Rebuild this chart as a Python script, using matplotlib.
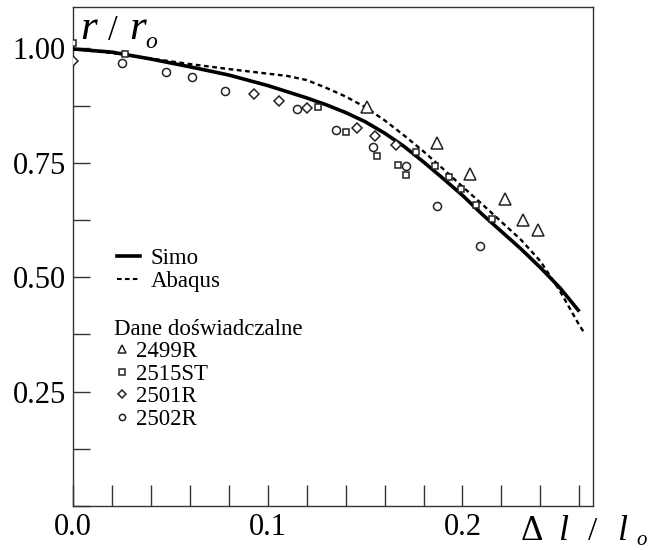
import matplotlib
matplotlib.use("Agg")
import matplotlib.pyplot as plt
from matplotlib.lines import Line2D
from matplotlib.ticker import MultipleLocator, FixedLocator

plt.rcParams['font.family'] = ['Liberation Serif', 'DejaVu Serif']

# ---- data ----
simo_x = [0.0, 0.02, 0.04, 0.06, 0.08, 0.10, 0.12, 0.13, 0.14, 0.15, 0.16,
          0.17, 0.18, 0.19, 0.20, 0.21, 0.22, 0.23, 0.24, 0.25, 0.26]
simo_y = [0.999, 0.992, 0.977, 0.960, 0.942, 0.919, 0.892, 0.877, 0.860, 0.840, 0.815,
          0.786, 0.752, 0.716, 0.679, 0.638, 0.600, 0.562, 0.521, 0.477, 0.425]

abaqus_x = [0.0, 0.02, 0.04, 0.06, 0.08, 0.10, 0.11, 0.12, 0.13, 0.14, 0.15,
            0.16, 0.17, 0.18, 0.19, 0.20, 0.21, 0.22, 0.23, 0.24, 0.25, 0.26, 0.262]
abaqus_y = [0.999, 0.990, 0.978, 0.966, 0.955, 0.945, 0.940, 0.931, 0.914, 0.895, 0.872,
            0.843, 0.810, 0.775, 0.737, 0.698, 0.660, 0.621, 0.582, 0.535, 0.470, 0.395, 0.382]

t2499_x = [0.151, 0.187, 0.204, 0.222, 0.231, 0.239]
t2499_y = [0.873, 0.793, 0.726, 0.670, 0.625, 0.603]

s2515_x = [0.0, 0.027, 0.126, 0.140, 0.156, 0.167, 0.171,
           0.176, 0.186, 0.193, 0.199, 0.207, 0.215]
s2515_y = [1.011, 0.987, 0.872, 0.818, 0.765, 0.745, 0.723,
           0.773, 0.744, 0.718, 0.692, 0.657, 0.627]

d2501_x = [0.0, 0.093, 0.106, 0.120, 0.146, 0.155, 0.166]
d2501_y = [0.973, 0.900, 0.886, 0.869, 0.827, 0.808, 0.789]

c2502_x = [0.025, 0.048, 0.061, 0.078, 0.115, 0.135, 0.154, 0.171, 0.187, 0.209]
c2502_y = [0.969, 0.949, 0.938, 0.907, 0.868, 0.822, 0.785, 0.743, 0.655, 0.568]

xticks_major = [0.0, 0.1, 0.2]
xtick_labels = ['0.0', '0.1', '0.2']
yticks_major = [0.25, 0.50, 0.75, 1.00]
ytick_labels = ['0.25', '0.50', '0.75', '1.00']

# ---- figure ----
fig = plt.figure(figsize=(6.5, 5.5), dpi=100)
W, H = 650, 550
ax = fig.add_axes([72.9 / W, 1 - 506 / H, (593 - 72.9) / W, (506 - 7.3) / H])

ax.plot(abaqus_x, abaqus_y, color='black', lw=1.7, ls=(0, (2.0, 1.5)), zorder=2)
ax.plot(simo_x, simo_y, color='black', lw=2.6, solid_capstyle='butt', zorder=3)

mk = dict(ls='none', mfc='white', mec='#222222', mew=1.1, zorder=4)
ax.plot(t2499_x, t2499_y, marker='^', ms=9, **mk)
ax.plot(s2515_x, s2515_y, marker='s', ms=4.5, **mk)
ax.plot(d2501_x, d2501_y, marker='D', ms=5, **mk)
ax.plot(c2502_x, c2502_y, marker='o', ms=5.8, **mk)

ax.set_xlim(0, 0.267)
ax.set_ylim(0, 1.09)

ax.xaxis.set_major_locator(FixedLocator(xticks_major))
ax.set_xticklabels(xtick_labels)
ax.xaxis.set_minor_locator(MultipleLocator(0.02))
ax.yaxis.set_major_locator(FixedLocator(yticks_major))
ax.set_yticklabels(ytick_labels)
ax.yaxis.set_minor_locator(MultipleLocator(0.125))

ax.tick_params(axis='both', which='both', direction='in', width=1.0, color='#333333',
               top=False, right=False, labelsize=22)
ax.tick_params(axis='x', which='both', length=15, pad=5)
ax.tick_params(axis='y', which='both', length=12, pad=5)
for sp in ax.spines.values():
    sp.set_linewidth(1.0)
    sp.set_color('#333333')

# legends
h1 = [Line2D([], [], color='black', lw=2.6),
      Line2D([], [], color='black', lw=1.5, ls=(0, (2.2, 1.6)))]
leg1 = ax.legend(h1, ['Simo', 'Abaqus'], loc='upper left', bbox_to_anchor=(0.085, 0.517),
                 frameon=False, fontsize=16.5, handlelength=1.0, handletextpad=0.45,
                 labelspacing=0.07, borderpad=0, borderaxespad=0)
ax.add_artist(leg1)

lmk = dict(ls='none', mfc='white', mec='#222222', mew=1.1)
h2 = [Line2D([], [], marker='^', ms=6, **lmk),
      Line2D([], [], marker='s', ms=4, **lmk),
      Line2D([], [], marker='D', ms=4, **lmk),
      Line2D([], [], marker='o', ms=4.5, **lmk)]
leg2 = ax.legend(h2, ['2499R', '2515ST', '2501R', '2502R'], title='Dane doświadczalne',
                 title_fontsize=16.5, alignment='left', loc='upper left',
                 bbox_to_anchor=(0.079, 0.375), frameon=False, fontsize=16.5,
                 handlelength=0.7, handletextpad=0.25, labelspacing=0.06,
                 borderpad=0, borderaxespad=0)

# axis labels (pieces)
def ftxt(x, y, s, size, style='normal'):
    fig.text(x / W, 1 - y / H, s, fontsize=size, style=style, ha='left', va='baseline')

ftxt(80, 39, 'r', 31, 'italic')
ftxt(108, 40, '/', 25)
ftxt(129, 39, 'r', 31, 'italic')
ftxt(145, 48, 'o', 17, 'italic')

ftxt(521, 540, 'Δ', 25)
ftxt(558, 540, 'l', 26, 'italic')
ftxt(588, 540, '/', 24)
ftxt(617, 540, 'l', 26, 'italic')
ftxt(636, 545, 'o', 15, 'italic')

fig.savefig('out.png', dpi=100)
